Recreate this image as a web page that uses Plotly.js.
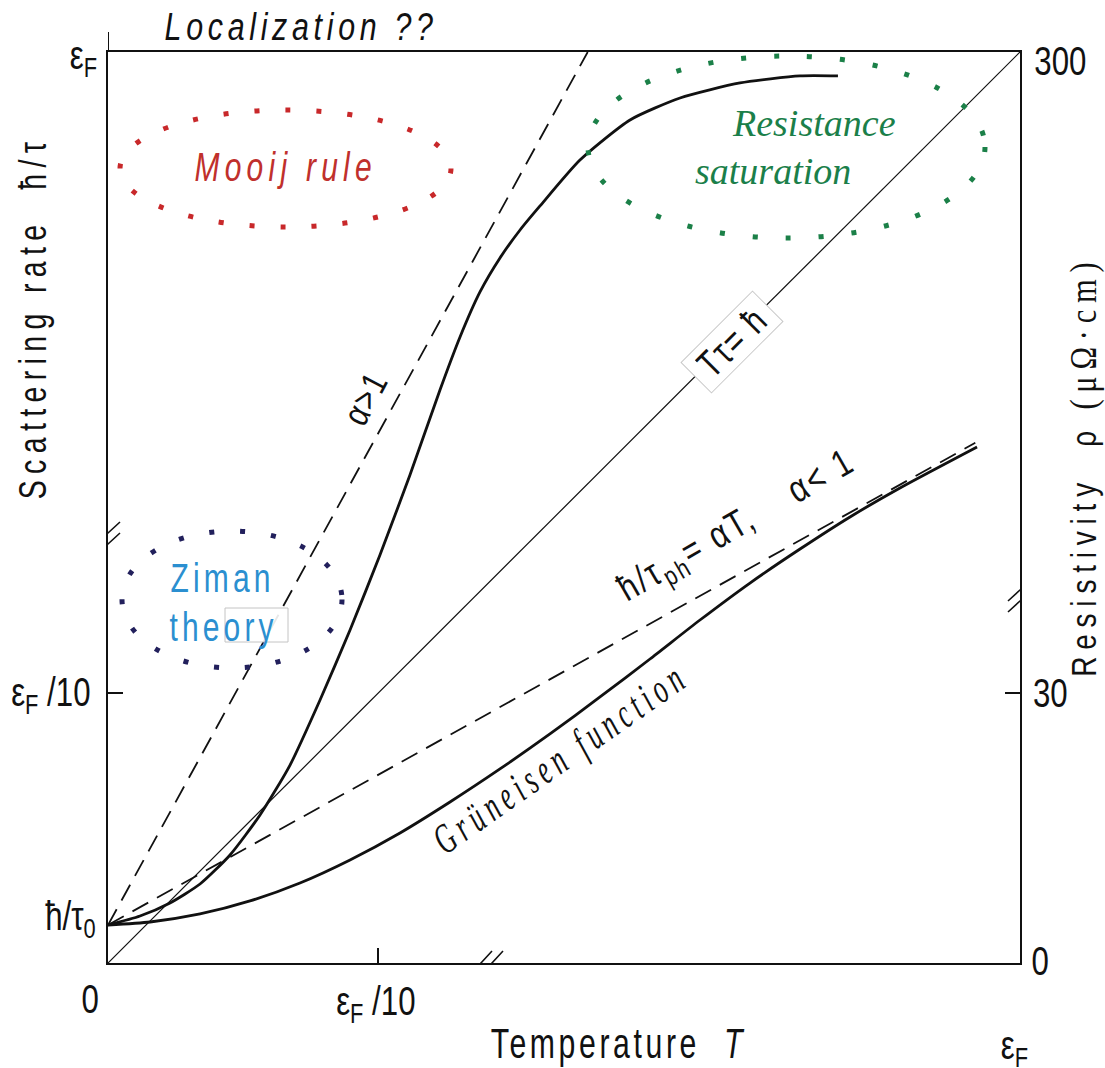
<!DOCTYPE html>
<html><head><meta charset="utf-8">
<script src="https://cdn.plot.ly/plotly-3.0.1.min.js"></script>
<style>html,body{margin:0;padding:0;background:#fff}#chart{width:1105px;height:1068px}</style>
</head><body><div id="chart"></div>
<script>
// ---------- data (schematic units: T and rate from 0 to 100 = eps_F scale) ----------
const diagT = [0, 100];
const diagRate = [0, 100];
const upperT = [0, 3.51, 6.80, 10.09, 13.38, 16.67, 19.96, 23.25, 26.54, 29.82, 33.11, 36.40, 38.60, 40.79, 42.98, 45.18, 47.37, 51.75, 57.24, 62.72, 69.30, 75.88, 80.04];
const upperRate = [4.17, 5.16, 6.59, 8.67, 11.86, 16.25, 21.73, 28.87, 36.55, 44.79, 53.57, 62.90, 68.72, 73.66, 77.39, 80.46, 83.10, 88.14, 92.54, 94.95, 96.60, 97.37, 97.37];
const gruneisenT = [0, 4.61, 10.09, 15.57, 21.05, 26.54, 32.02, 37.50, 42.98, 48.46, 53.95, 59.43, 64.91, 70.39, 75.88, 81.36, 86.84, 95.29];
const gruneisenRate = [4.17, 4.50, 5.38, 6.81, 8.78, 11.31, 14.27, 17.67, 21.30, 25.14, 29.20, 33.37, 37.65, 41.71, 45.44, 48.96, 52.14, 56.64];
const alphaGtT = [0, 52.6];
const alphaGtRate = [4.17, 100];
const alphaLtT = [0, 95.1];
const alphaLtRate = [4.17, 57.1];
const xTickVals = [0, 29.6, 100];
const xTickText = ['0', 'ε<sub>F</sub> /10', 'ε<sub>F</sub>'];
const yLeftVals = [100, 29.6, 4.17];
const yLeftText = ['ε<sub>F</sub>', 'ε<sub>F</sub> /10', 'ħ/τ<sub>0</sub>'];
const yRightVals = [100, 29.6, 0];
const yRightText = ['300', '30', '0'];

// ---------- helpers (pixel -> axis / paper units for placing text) ----------
const PX = px => (px - 108) / 9.12;
const PY = py => (963 - py) / 9.11;
const QX = px => (px - 108) / 912;
const QY = py => (963 - py) / 911;
const SANS = '"Liberation Sans", Arial, sans-serif';
const SERIF = '"Liberation Serif", "Times New Roman", serif';
const INK = '#111111';

const traces = [
  {x: diagT, y: diagRate, mode: 'lines', line: {color: INK, width: 1.2}, hoverinfo: 'skip'},
  {x: alphaGtT, y: alphaGtRate, mode: 'lines', line: {color: INK, width: 1.8, dash: '18px,10px'}, hoverinfo: 'skip'},
  {x: alphaLtT, y: alphaLtRate, mode: 'lines', line: {color: INK, width: 1.8, dash: '18px,10px'}, hoverinfo: 'skip'},
  {x: upperT, y: upperRate, mode: 'lines', line: {color: INK, width: 2.8, shape: 'spline', smoothing: 0.6}, hoverinfo: 'skip'},
  {x: gruneisenT, y: gruneisenRate, mode: 'lines', line: {color: INK, width: 2.8, shape: 'spline', smoothing: 0.6}, hoverinfo: 'skip'},
  {x: [0], y: [0], yaxis: 'y2', mode: 'markers', marker: {opacity: 0}, hoverinfo: 'skip'}
];

const annotations = [];
const styles = [];
function addAnn(a, st) {
  annotations.push(Object.assign({showarrow: false, xref: 'x', yref: 'y', xanchor: 'center', yanchor: 'middle'}, a));
  styles.push(st || {});
}

const tickFont = {family: SANS, size: 40, color: INK};
const tickSt = {sx: 0.78};
// left tick labels (axis value + pixel offset of label centre)
addAnn({x: 0, y: yLeftVals[0], text: yLeftText[0], xshift: -25, yshift: -6, font: tickFont}, tickSt);
addAnn({x: 0, y: yLeftVals[1], text: yLeftText[1], xshift: -57, yshift: -2, font: tickFont}, tickSt);
addAnn({x: 0, y: yLeftVals[2], text: yLeftText[2], xshift: -38, yshift: 6, font: tickFont}, tickSt);
// bottom tick labels
addAnn({x: xTickVals[0], y: 0, text: xTickText[0], xshift: -18, yshift: -36, font: tickFont}, tickSt);
addAnn({x: xTickVals[1], y: 0, text: xTickText[1], xshift: -2, yshift: -41, font: tickFont}, tickSt);
addAnn({x: xTickVals[2], y: 0, text: xTickText[2], xshift: -6, yshift: -85, font: tickFont}, tickSt);
// right tick labels
addAnn({x: 100, y: yRightVals[0], text: yRightText[0], xshift: 40, yshift: -9, font: tickFont}, tickSt);
addAnn({x: 100, y: yRightVals[1], text: yRightText[1], xshift: 30, yshift: 0, font: tickFont}, tickSt);
addAnn({x: 100, y: yRightVals[2], text: yRightText[2], xshift: 20, yshift: 2, font: tickFont}, tickSt);

// titles (paper-referenced, outside the plot frame)
addAnn({xref: 'paper', yref: 'paper', x: QX(301), y: QY(27), text: '<i>Localization ??</i>', font: {family: SANS, size: 39, color: INK}}, {sx: 0.78, ls: 6});
addAnn({xref: 'paper', yref: 'paper', x: QX(620), y: QY(1043), text: 'Temperature  <i>T</i>', font: {family: SANS, size: 42, color: INK}}, {sx: 0.72, ls: 5});
addAnn({xref: 'paper', yref: 'paper', x: QX(33), y: QY(318), text: 'Scattering rate  ħ/τ', textangle: -90, font: {family: SANS, size: 38, color: INK}}, {sx: 0.75, ls: 8.5});
addAnn({xref: 'paper', yref: 'paper', x: QX(1083), y: QY(466), text: 'Resistivity  ρ <span style="font-family:Liberation Serif;font-size:38px">(μΩ·cm)</span>', textangle: -90, font: {family: SANS, size: 35, color: INK}}, {sx: 0.8, ls: 8.5});

// in-plot labels
addAnn({x: PX(285), y: PY(167), text: '<i>Mooij rule</i>', font: {family: SANS, size: 40, color: '#c0302c'}}, {sx: 0.75, ls: 7});
addAnn({x: PX(222), y: PY(578), text: 'Ziman', font: {family: SANS, size: 40, color: '#2b8fd0'}}, {sx: 0.75, ls: 5.5});
addAnn({x: PX(223), y: PY(627), text: 'theory', font: {family: SANS, size: 40, color: '#2b8fd0'}}, {sx: 0.75, ls: 5.5});
addAnn({x: PX(814), y: PY(123), text: '<i>Resistance</i>', font: {family: SERIF, size: 38, color: '#1b7f4a'}});
addAnn({x: PX(773), y: PY(171), text: '<i>saturation</i>', font: {family: SERIF, size: 38, color: '#1b7f4a'}});
addAnn({x: PX(732), y: PY(342), text: 'Tτ= ħ', textangle: -45, bgcolor: '#ffffff', bordercolor: '#c8c8c8', borderwidth: 1, width: 98, height: 40, font: {family: SANS, size: 38, color: INK}}, {sx: 0.8, ls: 2});
addAnn({x: PX(365), y: PY(398), text: 'α&gt;1', textangle: -62, font: {family: SANS, size: 36, color: INK}}, {sx: 0.8, ls: 2});
addAnn({x: PX(737), y: PY(527), text: 'ħ/τ<sub>ph</sub>= αT,\u00a0\u00a0\u00a0 α&lt; 1', textangle: -30, font: {family: SANS, size: 38, color: INK}}, {sx: 0.8, ls: 3});
addAnn({x: PX(560), y: PY(758), text: '<i>Grüneisen function</i>', textangle: -35, font: {family: SERIF, size: 42, color: INK}}, {sx: 0.62, ls: 9});

// ---------- shapes ----------
const shapes = [];
// dotted ellipses
shapes.push({type: 'circle', xref: 'x', yref: 'y', x0: PX(120), x1: PX(451), y0: PY(227), y1: PY(110), line: {color: '#c8282a', width: 5, dash: '5px,26px'}});
shapes.push({type: 'circle', xref: 'x', yref: 'y', x0: PX(122), x1: PX(342), y0: PY(668), y1: PY(531), line: {color: '#22205c', width: 5, dash: '5px,26px'}});
shapes.push({type: 'circle', xref: 'x', yref: 'y', x0: PX(588), x1: PX(985), y0: PY(238), y1: PY(56), line: {color: '#1b8048', width: 5, dash: '5px,28px'}});
// small box around "ory"
shapes.push({type: 'rect', xref: 'x', yref: 'y', x0: PX(225), x1: PX(288), y0: PY(642), y1: PY(608), fillcolor: 'rgba(255,255,255,0.9)', line: {color: '#c4c4c4', width: 1}, layer: 'above'});
// left axis extends above the frame
shapes.push({type: 'line', xref: 'x', yref: 'paper', x0: 0, x1: 0, y0: 1, y1: 1 + 20 / 911, line: {color: INK, width: 2}});
// axis breaks
function addBreak(xa, ya, horiz) {
  const fillPath = horiz ? 'M-17,-12 L5,12 L16,12 L-6,-12 Z' : 'M-12,-17 L12,5 L12,16 L-12,-6 Z';
  const linePath = horiz ? 'M-17,-12 L5,12 M-6,-12 L16,12' : 'M-12,-17 L12,5 M-12,-6 L12,16';
  const base = {type: 'path', xref: 'x', yref: 'y', xsizemode: 'pixel', ysizemode: 'pixel', xanchor: xa, yanchor: ya, layer: 'above'};
  shapes.push(Object.assign({}, base, {path: fillPath, fillcolor: '#ffffff', line: {width: 0}}));
  shapes.push(Object.assign({}, base, {path: linePath, line: {color: INK, width: 1.6}}));
}
addBreak(PX(487), 0, true);
addBreak(0, PY(538), false);
addBreak(100, PY(595), false);

const axisBase = {range: [0, 100], showgrid: false, zeroline: false, ticks: 'inside', ticklen: 15, tickwidth: 2, tickcolor: INK, showticklabels: false, fixedrange: true};
const layout = {
  width: 1105, height: 1068,
  margin: {l: 108, r: 85, t: 52, b: 105, pad: 0},
  paper_bgcolor: '#ffffff', plot_bgcolor: '#ffffff',
  showlegend: false,
  xaxis: Object.assign({}, axisBase, {tickvals: [xTickVals[1]], showline: true, mirror: true, linecolor: INK, linewidth: 2}),
  yaxis: Object.assign({}, axisBase, {tickvals: [yLeftVals[1]], showline: true, mirror: true, linecolor: INK, linewidth: 2}),
  yaxis2: Object.assign({}, axisBase, {tickvals: [yRightVals[1]], overlaying: 'y', side: 'right', showline: false}),
  annotations: annotations,
  shapes: shapes
};

Plotly.newPlot('chart', traces, layout, {displayModeBar: false, staticPlot: true}).then(() => {
  document.querySelectorAll('#chart g.annotation').forEach(g => {
    const i = +g.getAttribute('data-index');
    const st = styles[i] || {};
    const t = g.querySelector('text');
    if (!t) return;
    if (st.ls) t.style.letterSpacing = st.ls + 'px';
    if (st.sx && st.sx !== 1) {
      t.style.transformBox = 'fill-box';
      t.style.transformOrigin = 'center';
      t.style.transform = 'scaleX(' + st.sx + ')';
    }
  });
});
</script>
</body></html>
